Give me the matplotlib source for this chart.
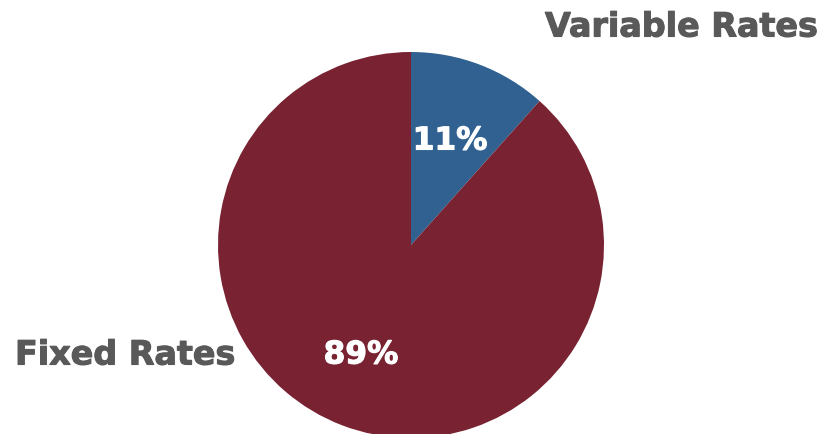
import matplotlib
matplotlib.use("Agg")
import matplotlib.pyplot as plt
import matplotlib.patheffects as pe

categories = ["Variable Rates", "Fixed Rates"]
values = [11.6, 88.4]
pct_labels = ["11%", "89%"]
colors = ["#306190", "#782232"]

W, H = 820, 435
fig = plt.figure(figsize=(W / 100, H / 100), dpi=100)

cx, cy, r = 411, 246, 193
ax = fig.add_axes([(cx - r) / W, (H - cy - r) / H, 2 * r / W, 2 * r / H])
wedges, _ = ax.pie(values, colors=colors, startangle=90, counterclock=False,
                   radius=1, wedgeprops=dict(linewidth=0))
ax.set_xlim(-1, 1)
ax.set_ylim(-1, 1)
ax.set_aspect("equal")
ax.axis("off")

def fx(px):
    return px / W

def fy(py):
    return 1 - py / H

txt = dict(fontweight="bold", family="DejaVu Sans")
# percentage labels
for x, y, lab in [(450, 142, pct_labels[0]), (361, 356, pct_labels[1])]:
    fig.text(fx(x), fy(y), lab, color="white", fontsize=22.5,
             ha="center", va="center",
             path_effects=[pe.withStroke(linewidth=0.8, foreground="white")], **txt)
# category labels
for x, y, lab, ha in [(818, 28, categories[0], "right"), (15, 356, categories[1], "left")]:
    fig.text(fx(x), fy(y), lab, color="#595959", fontsize=24,
             ha=ha, va="center",
             path_effects=[pe.withStroke(linewidth=0.8, foreground="#595959")], **txt)

fig.savefig("out.png", dpi=100)
